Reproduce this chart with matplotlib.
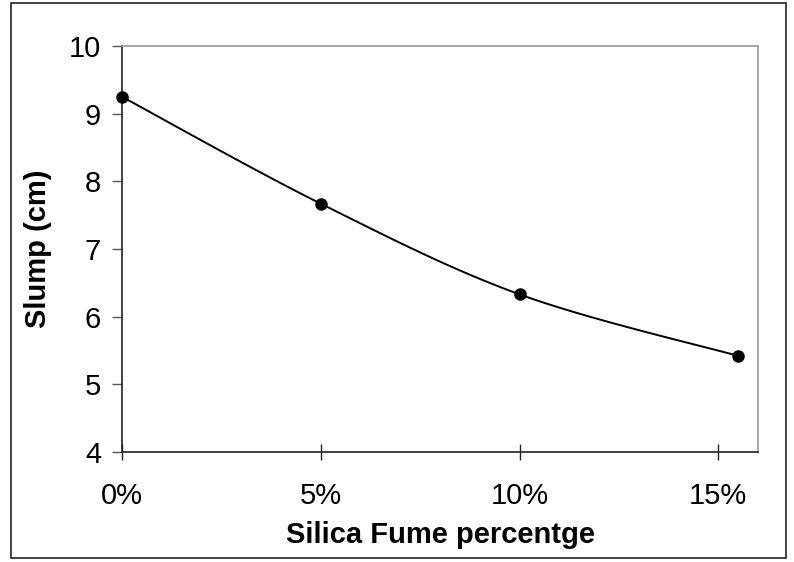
import numpy as np
import matplotlib
matplotlib.use("Agg")
import matplotlib.pyplot as plt
from matplotlib.patches import Rectangle
from matplotlib.ticker import FixedLocator, FuncFormatter

# Slump test results
silica_fume_pct = [0, 5, 10, 15.5]
slump_cm = [9.25, 7.67, 6.33, 5.42]
x_ticks = [0, 5, 10, 15]
y_ticks = [4, 5, 6, 7, 8, 9, 10]

plt.rcParams["font.family"] = ["Liberation Sans", "DejaVu Sans"]


def smooth_curve(xs, ys, n=40):
    """Piecewise cubic Bezier through the points (Catmull-Rom style tangents)."""
    p = np.column_stack([xs, ys]).astype(float)
    ext = np.vstack([p[0], p, p[-1]])
    out = []
    t = np.linspace(0, 1, n)[:, None]
    for i in range(len(p) - 1):
        p0, p3 = ext[i + 1], ext[i + 2]
        c1 = p0 + (ext[i + 2] - ext[i]) / 6.0
        c2 = p3 - (ext[i + 3] - ext[i + 1]) / 6.0
        seg = ((1 - t) ** 3) * p0 + 3 * ((1 - t) ** 2) * t * c1 \
            + 3 * (1 - t) * t ** 2 * c2 + t ** 3 * p3
        out.append(seg if i == 0 else seg[1:])
    seg = np.vstack(out)
    return seg[:, 0], seg[:, 1]


W, H = 794, 562
fig = plt.figure(figsize=(W / 100, H / 100), dpi=100)
fig.patch.set_facecolor("white")

# chart frame
fig.add_artist(Rectangle((11 / W, 1 - 558 / H), (786 - 11) / W, (558 - 3) / H,
                         transform=fig.transFigure, fill=False,
                         edgecolor="#222222", linewidth=1.2))

ax = fig.add_axes([122 / W, 1 - 452 / H, (758 - 122) / W, (452 - 46) / H])

sx, sy = smooth_curve(silica_fume_pct, slump_cm)
ax.plot(sx, sy, color="black", linewidth=1.4, zorder=3)
ax.plot(silica_fume_pct, slump_cm, linestyle="none", marker="o",
        markersize=8, color="black", zorder=4, clip_on=False)

ax.set_xlim(0, 16)
ax.set_ylim(4, 10)
ax.xaxis.set_major_locator(FixedLocator(x_ticks))
ax.yaxis.set_major_locator(FixedLocator(y_ticks))
ax.xaxis.set_major_formatter(FuncFormatter(lambda v, _: f"{v:.0f}%"))
ax.yaxis.set_major_formatter(FuncFormatter(lambda v, _: f"{v:.0f}"))

ax.tick_params(axis="x", direction="inout", length=11, width=1.0,
               color="#222222", labelsize=21, pad=16)
ax.tick_params(axis="y", direction="out", length=7, width=1.0,
               color="#555555", labelsize=21, pad=8)

for side in ("left", "bottom"):
    ax.spines[side].set_color("#222222")
    ax.spines[side].set_linewidth(1.2)
for side in ("top", "right"):
    ax.spines[side].set_color("#999999")
    ax.spines[side].set_linewidth(1.2)

ax.set_xlabel("Silica Fume percentge", fontsize=21, fontweight="bold",
              labelpad=8)
ax.set_ylabel("Slump (cm)", fontsize=21, fontweight="bold", labelpad=12)

fig.savefig("out.png", dpi=100)
